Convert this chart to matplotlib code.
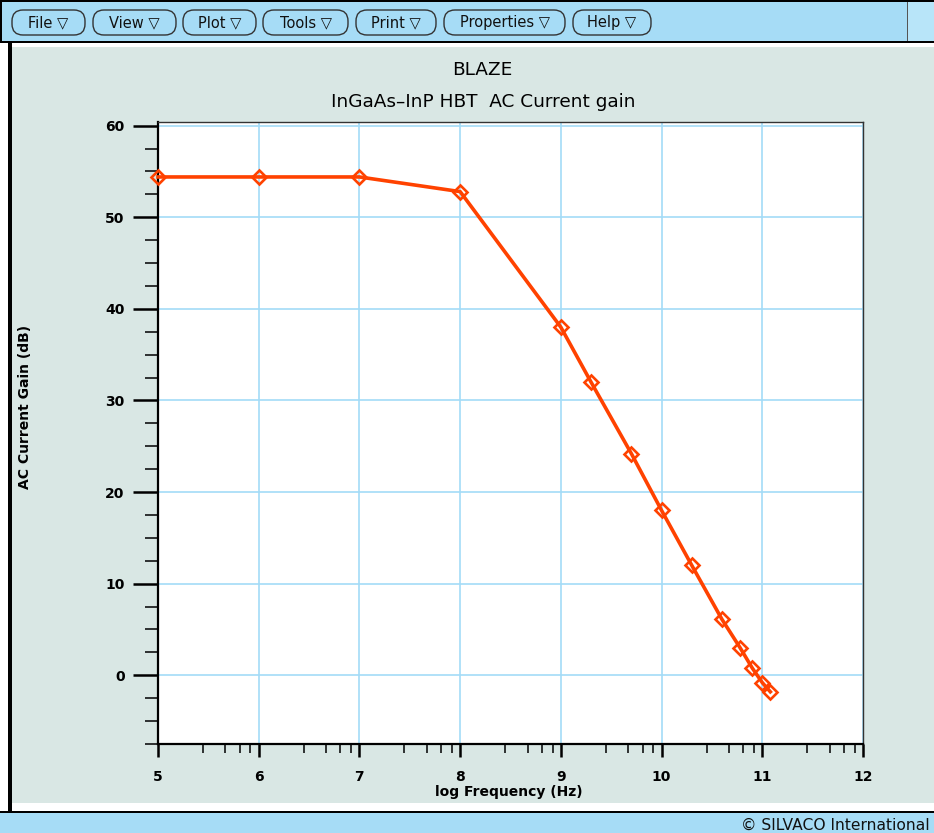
import matplotlib.pyplot as plt
from matplotlib.patches import Rectangle, FancyBboxPatch
from matplotlib.ticker import MultipleLocator
import numpy as np

# AC current gain vs log frequency
log_freq = [5.0, 6.0, 7.0, 8.0, 9.0, 9.3, 9.7, 10.0, 10.3, 10.6, 10.78, 10.9, 11.0, 11.08]
ac_gain_db = [54.4, 54.4, 54.4, 52.8, 38.0, 32.0, 24.2, 18.0, 12.0, 6.1, 3.0, 0.8, -0.8, -1.8]

x_ticks = [5, 6, 7, 8, 9, 10, 11, 12]
y_ticks = [0, 10, 20, 30, 40, 50, 60]

menu_items = ['File', 'View', 'Plot', 'Tools', 'Print', 'Properties', 'Help']

title_top = 'BLAZE'
title_sub = 'InGaAs\u2013InP HBT  AC Current gain'
x_label = 'log Frequency (Hz)'
y_label = 'AC Current Gain (dB)'
footer = '\u00a9 SILVACO International'

W, H = 934, 833
BAR_BLUE = '#a6dcf6'
PANEL = '#d9e7e4'
LINE_RED = '#ff4200'
GRID_BLUE = '#a3dbf7'


def draw_window(fig):
    """Window chrome: menu bar, panel, status bar (pixel coords)."""
    bg = fig.add_axes([0, 0, 1, 1])
    bg.set_xlim(0, W)
    bg.set_ylim(H, 0)
    bg.axis('off')
    bg.set_zorder(0)

    bg.add_patch(Rectangle((0, 0), W, 42, fc=BAR_BLUE, ec='none'))
    bg.add_patch(Rectangle((908, 2), W - 908, 40, fc='#b8e5f9', ec='none'))
    bg.add_patch(Rectangle((907, 2), 1.2, 40, fc='#555555', ec='none'))
    bg.add_patch(Rectangle((0, 0), W, 2, fc='black', ec='none'))
    bg.add_patch(Rectangle((0, 0), 2, 42, fc='black', ec='none'))
    bg.add_patch(Rectangle((0, 41), W, 2, fc='black', ec='none'))

    bg.add_patch(Rectangle((12, 47), W - 12, 803 - 47, fc=PANEL, ec='none'))
    bg.add_patch(Rectangle((8, 43), 4, 770, fc='black', ec='none'))

    bg.add_patch(Rectangle((0, 811), W, 2, fc='black', ec='none'))
    bg.add_patch(Rectangle((0, 813), W, H - 813, fc=BAR_BLUE, ec='none'))
    bg.text(741, 825, footer, fontsize=11.2, ha='left', va='center', color='#111111')

    spans = [(12, 85), (93, 176), (183, 256), (263, 348), (356, 436), (444, 565), (573, 651)]
    for name, (x0, x1) in zip(menu_items, spans):
        bg.add_patch(FancyBboxPatch((x0, 10), x1 - x0, 25,
                                    boxstyle='round,pad=0,rounding_size=11',
                                    fc=BAR_BLUE, ec='#333333', lw=1.0))
        bg.text((x0 + x1) / 2, 22.5, name + ' \u25bd', fontsize=10.5,
                ha='center', va='center', color='#111111')


def plot_gain():
    fig = plt.figure(figsize=(W / 100, H / 100), dpi=100, facecolor='white')
    draw_window(fig)

    ax = fig.add_axes([158 / W, (H - 744) / H, 705 / W, 622 / H])
    ax.set_zorder(2)
    ax.set_facecolor('white')

    ax.plot(log_freq, ac_gain_db, color=LINE_RED, lw=2.6, marker='D', ms=7.2,
            mfc='none', mec=LINE_RED, mew=1.9, clip_on=False, zorder=3)

    ax.set_xlim(5, 12)
    ax.set_ylim(-7.5, 60.4)
    ax.set_xticks(x_ticks)
    fracs = [0.447, 0.669, 0.812, 0.918]
    ax.set_xticks([d + f for d in x_ticks[:-1] for f in fracs], minor=True)
    ax.set_yticks(y_ticks)
    ax.yaxis.set_minor_locator(MultipleLocator(2.5))

    ax.grid(True, which='major', color=GRID_BLUE, lw=1.2)
    ax.set_axisbelow(True)

    ax.tick_params(axis='y', which='major', direction='out', length=18, width=1.8,
                   pad=6, labelsize=10)
    ax.tick_params(axis='y', which='minor', direction='out', length=9.4, width=1.1)
    ax.tick_params(axis='x', which='major', direction='out', length=9.4, width=1.8,
                   pad=9, labelsize=10)
    ax.tick_params(axis='x', which='minor', direction='out', length=6.2, width=1.1)
    for lbl in ax.get_xticklabels() + ax.get_yticklabels():
        lbl.set_fontweight('bold')

    for side in ['left', 'bottom']:
        ax.spines[side].set_linewidth(1.6)
        ax.spines[side].set_color('black')
    for side in ['top', 'right']:
        ax.spines[side].set_linewidth(1.0)
        ax.spines[side].set_color('#333333')

    ax.set_xlabel(x_label, fontsize=10, fontweight='bold')
    ax.xaxis.set_label_coords(0.498, -0.066)
    ax.set_ylabel(y_label, fontsize=10, fontweight='bold')
    ax.yaxis.set_label_coords(-0.179, 0.542)

    fig.text(482 / W, 1 - 70 / H, title_top, ha='center', va='center', fontsize=13.3)
    fig.text(483 / W, 1 - 102 / H, title_sub, ha='center', va='center', fontsize=13.3)

    fig.savefig('out.png', dpi=100, facecolor='white')
    plt.close(fig)


if __name__ == '__main__':
    plot_gain()
